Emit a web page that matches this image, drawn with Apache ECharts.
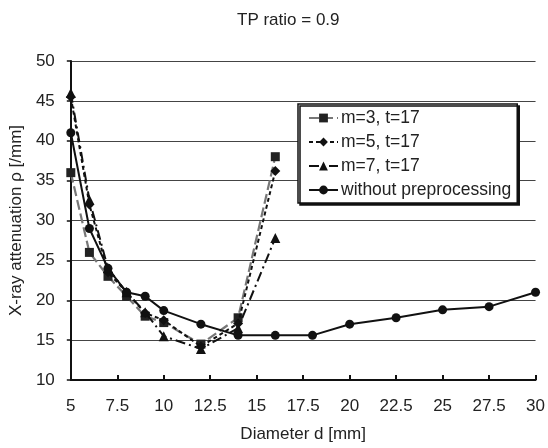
<!DOCTYPE html>
<html><head><meta charset="utf-8">
<script src="https://cdn.jsdelivr.net/npm/echarts@6/dist/echarts.min.js"></script>
<style>html,body{margin:0;padding:0;background:#fff}#c{width:548px;height:448px}</style>
</head><body><div id="c"></div>
<script>
const titleText = 'TP ratio = 0.9';
const xName = 'Diameter d [mm]';
const yName = 'X-ray attenuation \u03c1 [/mm]';
const seriesNames = ['m=3, t=17', 'm=5, t=17', 'm=7, t=17', 'without preprocessing'];
const dPre = [5, 6, 7, 8, 9, 10, 12, 14, 16];
const m3 = [36, 26, 23, 20.5, 18, 17.2, 14.5, 17.8, 38];
const m5 = [45.5, 32, 23.5, 21, 18.4, 17.5, 14.2, 17.1, 36.2];
const m7 = [46, 32.6, 24, 21, 18.5, 15.5, 13.9, 16.5, 27.8];
const dRaw = [5, 6, 7, 8, 9, 10, 12, 14, 16, 18, 20, 22.5, 25, 27.5, 30];
const raw = [41, 29, 24, 21, 20.5, 18.7, 17, 15.6, 15.6, 15.6, 17, 17.8, 18.8, 19.2, 21];

const pair = (xs, ys) => xs.map((x, i) => [x, ys[i]]);
const font = 'Liberation Sans, Arial, sans-serif';
const txt = '#222';

const chart = echarts.init(document.getElementById('c'), null, {renderer: 'canvas'});
chart.setOption({
  animation: false,
  backgroundColor: '#fff',
  title: {text: titleText, left: 237, top: 12, padding: 0,
    textStyle: {fontFamily: font, fontSize: 17, fontWeight: 'normal', color: txt}},
  grid: {left: 69, right: 12, top: 61, bottom: 65},
  legend: {
    orient: 'vertical', left: 298, top: 104,
    padding: [5, 6, 4, 10], itemGap: 6, itemWidth: 29, itemHeight: 11,
    backgroundColor: '#fff', borderColor: '#111', borderWidth: 1.5, borderRadius: 0,
    shadowColor: '#111', shadowOffsetX: 2, shadowOffsetY: 2, shadowBlur: 0,
    textStyle: {fontFamily: font, fontSize: 17.5, color: txt, lineHeight: 18, padding: [0, 0, 0, -2]},
    data: seriesNames
  },
  xAxis: {
    type: 'value', min: 5, max: 30, interval: 2.5,
    name: xName, nameLocation: 'middle', nameGap: 46,
    nameTextStyle: {fontFamily: font, fontSize: 17, color: txt},
    axisLine: {lineStyle: {color: '#111', width: 2}},
    axisTick: {inside: true, length: 5, lineStyle: {color: '#111', width: 2}},
    axisLabel: {fontFamily: font, fontSize: 17, color: txt, margin: 18},
    splitLine: {show: false}
  },
  yAxis: {
    type: 'value', min: 10, max: 50, interval: 5,
    name: yName, nameLocation: 'middle', nameGap: 40,
    nameTextStyle: {fontFamily: font, fontSize: 17, color: txt},
    axisLine: {show: true, lineStyle: {color: '#111', width: 2}},
    axisTick: {show: true, length: 4, lineStyle: {color: '#111', width: 1.5}},
    axisLabel: {fontFamily: font, fontSize: 17, color: txt, margin: 16},
    splitLine: {show: true, lineStyle: {color: '#444', width: 1.2}}
  },
  series: [
    {name: seriesNames[0], type: 'line', data: pair(dPre, m3), symbol: 'rect', symbolSize: 9,
      itemStyle: {color: '#222'}, lineStyle: {color: '#777', width: 2.2, type: [10, 4]}, clip: false, z: 3},
    {name: seriesNames[1], type: 'line', data: pair(dPre, m5), symbol: 'diamond', symbolSize: 10,
      itemStyle: {color: '#111'}, lineStyle: {color: '#111', width: 2, type: [4, 3]}, clip: false, z: 4},
    {name: seriesNames[2], type: 'line', data: pair(dPre, m7), symbol: 'triangle', symbolSize: 10,
      itemStyle: {color: '#111'}, lineStyle: {color: '#111', width: 2, type: [10, 4, 2, 4]}, clip: false, z: 5},
    {name: seriesNames[3], type: 'line', data: pair(dRaw, raw), symbol: 'circle', symbolSize: 9,
      itemStyle: {color: '#111'}, lineStyle: {color: '#111', width: 2}, clip: false, z: 6}
  ]
});
</script></body></html>
